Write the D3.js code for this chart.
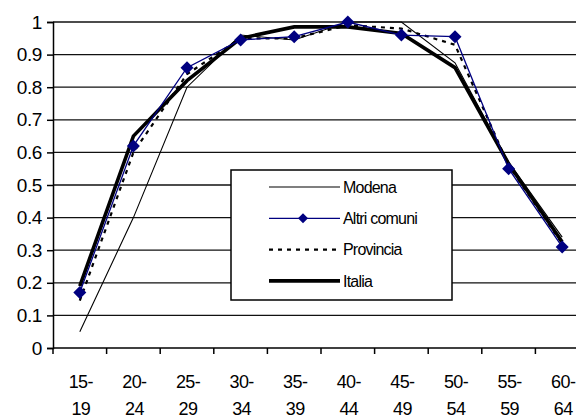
<!DOCTYPE html>
<html>
<head>
<meta charset="utf-8">
<script src="https://cdn.jsdelivr.net/npm/d3@7"></script>
<style>
  html, body { margin: 0; padding: 0; background: #fff; }
  #chart { width: 576px; height: 416px; overflow: hidden; }
  svg { display: block; font-family: "Liberation Sans", Arial, sans-serif; }
</style>
</head>
<body>
<div id="chart"></div>
<script>
// age classes and activity rates
const ageClasses = ['15-19', '20-24', '25-29', '30-34', '35-39', '40-44', '45-49', '50-54', '55-59', '60-64'];
const modena    = [0.05, 0.40, 0.80, 0.96, 0.945, 1.00, 1.00, 0.875, 0.57, 0.34];
const altri     = [0.17, 0.62, 0.86, 0.945, 0.955, 1.00, 0.96, 0.955, 0.55, 0.31];
const provincia = [0.145, 0.60, 0.84, 0.95, 0.95, 0.99, 0.98, 0.93, 0.56, 0.32];
const italia    = [0.19, 0.65, 0.82, 0.95, 0.985, 0.985, 0.965, 0.86, 0.565, 0.325];
const yTicks = [0, 0.1, 0.2, 0.3, 0.4, 0.5, 0.6, 0.7, 0.8, 0.9, 1];
const yTickLabels = ['0', '0.1', '0.2', '0.3', '0.4', '0.5', '0.6', '0.7', '0.8', '0.9', '1'];

const series = [
  { name: 'Modena',      values: modena,    color: '#000', width: 1.1, dash: null,  marker: false },
  { name: 'Altri comuni', values: altri,    color: '#000080', width: 1.3, dash: null, marker: true },
  { name: 'Provincia',   values: provincia, color: '#000', width: 2.2, dash: '4,5', marker: false },
  { name: 'Italia',      values: italia,    color: '#000', width: 3.6, dash: null,  marker: false }
];

const W = 576, H = 416;
const mLeft = 53, mTop = 22, mBottom = 348, plotRight = 589;

const svg = d3.select('#chart').append('svg')
  .attr('width', W)
  .attr('height', H)
  .attr('viewBox', [0, 0, W, H]);

const x = d3.scaleBand().domain(ageClasses).range([mLeft, plotRight]).padding(0);
const y = d3.scaleLinear().domain([0, 1]).range([mBottom, mTop]);
const cx = d => x(d) + x.bandwidth() / 2;

// gridlines
svg.append('g')
  .selectAll('line')
  .data(yTicks.slice(1))
  .join('line')
  .attr('x1', mLeft).attr('x2', W)
  .attr('y1', d => y(d)).attr('y2', d => y(d))
  .attr('stroke', '#111')
  .attr('stroke-width', 1.3);

// y axis
const yAxis = svg.append('g')
  .attr('transform', `translate(${mLeft},0)`)
  .call(d3.axisLeft(y).tickValues(yTicks).tickSize(6).tickPadding(5)
    .tickFormat((d, i) => yTickLabels[i]));
yAxis.select('.domain').attr('stroke', '#000').attr('stroke-width', 1.5);
yAxis.selectAll('.tick line').attr('stroke', '#000').attr('stroke-width', 1.5);
yAxis.selectAll('.tick text')
  .style('font-size', '19px')
  .style('letter-spacing', '-0.4px')
  .style('font-family', '"Liberation Sans", Arial, sans-serif')
  .attr('fill', '#000');

// x axis
const xAxisG = svg.append('g');
xAxisG.append('line')
  .attr('x1', mLeft).attr('x2', W)
  .attr('y1', mBottom).attr('y2', mBottom)
  .attr('stroke', '#000').attr('stroke-width', 1.5);
xAxisG.selectAll('.xtick')
  .data(ageClasses)
  .join('line')
  .attr('class', 'xtick')
  .attr('x1', d => x(d)).attr('x2', d => x(d))
  .attr('y1', mBottom).attr('y2', mBottom + 6)
  .attr('stroke', '#000').attr('stroke-width', 1.5);

const xl = xAxisG.selectAll('.xlab')
  .data(ageClasses)
  .join('text')
  .attr('class', 'xlab')
  .attr('text-anchor', 'middle')
  .style('font-size', '18px')
  .style('letter-spacing', '-0.6px')
  .attr('fill', '#000');
xl.append('tspan')
  .attr('x', d => cx(d) + 1)
  .attr('y', 388)
  .text(d => d.split('-')[0] + '-');
xl.append('tspan')
  .attr('x', d => cx(d) + 1)
  .attr('y', 415)
  .text(d => d.split('-')[1]);

// lines
const line = d3.line()
  .x((v, i) => cx(ageClasses[i]))
  .y(v => y(v));

const order = [series[0], series[2], series[3], series[1]];
svg.append('g')
  .selectAll('path')
  .data(order)
  .join('path')
  .attr('d', s => line(s.values))
  .attr('fill', 'none')
  .attr('stroke', s => s.color)
  .attr('stroke-width', s => s.width)
  .attr('stroke-dasharray', s => s.dash)
  .attr('stroke-linejoin', 'miter');

// diamond markers
const diamond = r => `M0,${-r}L${r},0L0,${r}L${-r},0Z`;
svg.append('g')
  .selectAll('path')
  .data(altri)
  .join('path')
  .attr('transform', (v, i) => `translate(${cx(ageClasses[i])},${y(v)})`)
  .attr('d', diamond(6.5))
  .attr('fill', '#000080');

// legend
const lg = svg.append('g').attr('transform', 'translate(231,170)');
lg.append('rect')
  .attr('width', 221).attr('height', 130)
  .attr('fill', '#fff')
  .attr('stroke', '#000')
  .attr('stroke-width', 1.5);

const rows = lg.selectAll('.row')
  .data(series)
  .join('g')
  .attr('class', 'row')
  .attr('transform', (d, i) => `translate(0,${17 + i * 31.3})`);
rows.append('line')
  .attr('x1', 38).attr('x2', 109)
  .attr('stroke', d => d.color)
  .attr('stroke-width', d => d.width)
  .attr('stroke-dasharray', d => d.dash);
rows.filter(d => d.marker)
  .append('path')
  .attr('transform', 'translate(72,0)')
  .attr('d', diamond(5))
  .attr('fill', '#000080');
rows.append('text')
  .attr('x', 112)
  .attr('dy', '0.35em')
  .style('font-size', '16px')
  .style('letter-spacing', '-0.8px')
  .attr('fill', '#000')
  .text(d => d.name);
</script>
</body>
</html>
